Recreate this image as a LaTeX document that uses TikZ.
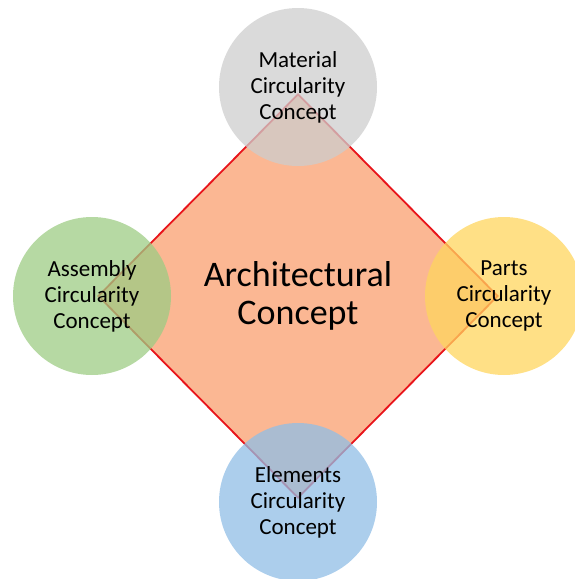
\documentclass[tikz,border=0pt]{standalone}
\usepackage{fontspec}
\setmainfont{Carlito}
\usetikzlibrary{shapes.geometric}
\definecolor{diamondfill}{HTML}{FBB793}
\definecolor{diamondline}{HTML}{E8141B}
\definecolor{cgray}{HTML}{CDCDCD}
\definecolor{cgreen}{HTML}{9DCC84}
\definecolor{cyellow}{HTML}{FFD55E}
\definecolor{cblue}{HTML}{90BEE6}
\tikzset{
  core/.style={shape=diamond, draw=diamondline, fill=diamondfill, line width=1.8pt,
    minimum width=400pt, minimum height=404pt, inner sep=0pt, align=center,
    font=\fontsize{36}{38}\selectfont, text=black},
  concept/.style={circle, minimum size=158pt, inner sep=0pt, fill opacity=0.75,
    text opacity=1, align=center, font=\fontsize{23}{26}\selectfont, text=black}
}
\begin{document}
\begin{tikzpicture}[x=1pt,y=-1pt]
\useasboundingbox (0,0) rectangle (574,579);
\node[core] (arch) at (298,296) {Architectural\\Concept};
\node[concept, fill=cgray]   (mat)  at (298,87)  {Material\\Circularity\\Concept};
\node[concept, fill=cgreen]  (asm)  at (92,296)  {Assembly\\Circularity\\Concept};
\node[concept, fill=cyellow] (parts) at (504,296) {Parts\\Circularity\\Concept};
\node[concept, fill=cblue]   (elem) at (298,502) {Elements\\Circularity\\Concept};
\end{tikzpicture}
\end{document}
